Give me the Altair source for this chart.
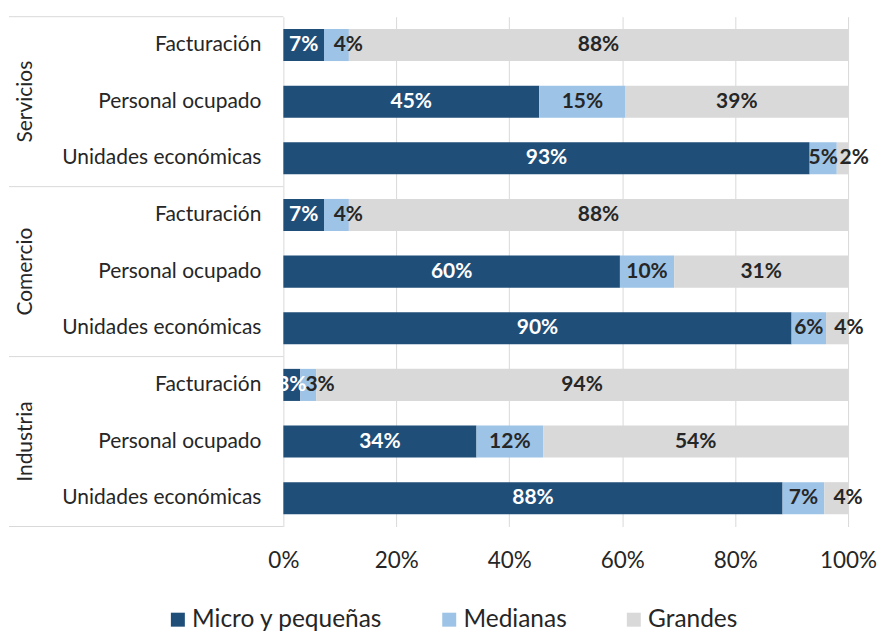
import altair as alt
import pandas as pd

sectors = ["Servicios", "Comercio", "Industria"]
categories = ["Facturación", "Personal ocupado", "Unidades económicas"]
sizes = ["Micro y pequeñas", "Medianas", "Grandes"]
colors = ["#1F4E79", "#9DC3E6", "#D9D9D9"]

# rows: Servicios (Fact, Pers, Unid), Comercio (...), Industria (...)
micro = [7.2, 45.3, 93.2, 7.2, 59.6, 90.0, 3.0, 34.2, 88.4]
medianas = [4.4, 15.3, 4.8, 4.4, 9.6, 6.1, 2.8, 11.8, 7.4]
grandes = [88.4, 39.4, 2.0, 88.4, 30.8, 3.9, 94.2, 54.0, 4.2]
x_ticks = [0, 20, 40, 60, 80, 100]

FONT = "Lato"
TXT = "#262626"

rows = []
series = [micro, medianas, grandes]
for si, s in enumerate(sectors):
    for ci, c in enumerate(categories):
        idx = si * 3 + ci
        for oi, sz in enumerate(sizes):
            rows.append({"sector": s, "category": c, "pos": idx,
                         "size": sz, "order": oi, "value": series[oi][idx]})
df = pd.DataFrame(rows)

cat_df = pd.DataFrame([{"category": c, "pos": si * 3 + ci}
                       for si in range(len(sectors)) for ci, c in enumerate(categories)])
sec_df = pd.DataFrame([{"sector": s, "pos": si * 3 + 1} for si, s in enumerate(sectors)])
sep_df = pd.DataFrame({"b": [si * 3 - 0.5 for si in range(len(sectors) + 1)]})

yscale = alt.Scale(domain=[-0.5, 8.5], reverse=True, nice=False, zero=False)
xscale = alt.Scale(domain=[0, 100], nice=False)

base = alt.Chart(df).transform_stack(
    stack="value", groupby=["pos"], sort=[alt.SortField("order")], as_=["x0", "x1"]
).transform_calculate(
    ylo="datum.pos - 0.283", yhi="datum.pos + 0.283",
    lx="(datum.x0 + datum.x1) / 2 + ((datum.order > 0 && (datum.x1 - datum.x0) < 4.6) ? 2.1 : 0)",
    lab="round(datum.value) + '%'",
)

bars = base.mark_rect().encode(
    x=alt.X("x0:Q", scale=xscale,
            axis=alt.Axis(values=x_ticks, labelExpr="datum.value + '%'", title=None,
                          domain=False, ticks=False, grid=True, gridColor="#D9D9D9",
                          labelFont=FONT, labelFontSize=22.5, labelColor=TXT,
                          labelPadding=23, labelFlush=False)),
    x2="x1:Q",
    y=alt.Y("ylo:Q", scale=yscale, axis=None),
    y2="yhi:Q",
    color=alt.Color("size:N", scale=alt.Scale(domain=sizes, range=colors),
                    legend=alt.Legend(title=None, orient="none", direction="horizontal",
                                      legendX=-118, legendY=592,
                                      symbolType="square", symbolSize=196,
                                      symbolStrokeWidth=0, labelFont=FONT,
                                      labelFontSize=24.5, labelColor=TXT,
                                      labelLimit=400,
                                      labelOffset=2, columnPadding=54)),
    order=alt.Order("order:Q"),
)

labels = base.mark_text(font=FONT, fontSize=21, fontWeight="bold").encode(
    x=alt.X("lx:Q", scale=xscale),
    y=alt.Y("pos:Q", scale=yscale),
    text="lab:N",
    color=alt.condition("datum.order == 0", alt.value("white"), alt.value(TXT)),
)

cat_text = alt.Chart(cat_df).mark_text(font=FONT, fontSize=21, align="right",
                                       baseline="middle", color=TXT).encode(
    x=alt.value(-22), y=alt.Y("pos:Q", scale=yscale), text="category:N")

sec_text = alt.Chart(sec_df).mark_text(font=FONT, fontSize=21, align="center",
                                       baseline="middle", angle=270, color=TXT).encode(
    x=alt.value(-258), y=alt.Y("pos:Q", scale=yscale), text="sector:N")

seps = alt.Chart(sep_df).mark_rule(color="#D9D9D9", strokeWidth=1).encode(
    x=alt.value(-275), x2=alt.value(0), y=alt.Y("b:Q", scale=yscale))

chart = alt.layer(bars, labels, cat_text, sec_text, seps).properties(
    width=566, height=511,
    padding={"left": 0, "top": 7, "right": 0, "bottom": 0},
).configure_view(stroke=None)

chart.save("out.html", embed_options={"renderer": "svg", "actions": False})
